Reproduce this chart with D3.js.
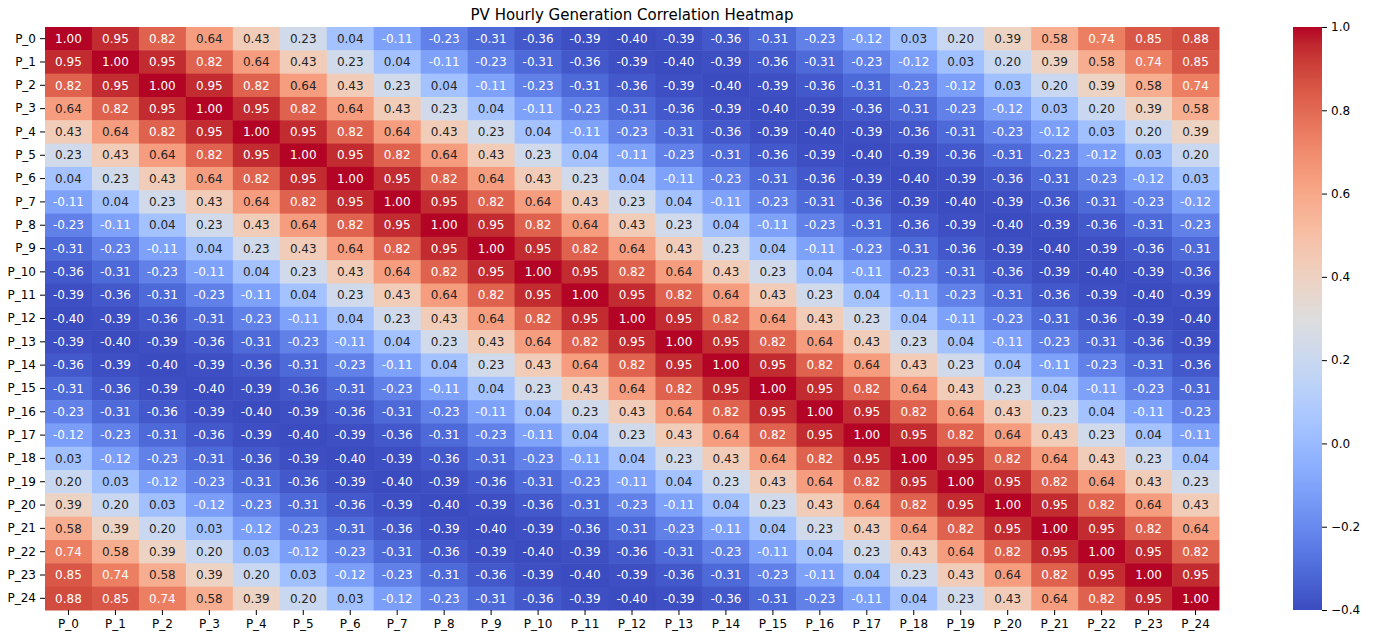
<!DOCTYPE html>
<html>
<head>
<meta charset="utf-8">
<script src="https://cdn.jsdelivr.net/npm/d3@7"></script>
<style>
  body { margin: 0; background: #fff; }
  svg text { font-family: "DejaVu Sans", sans-serif; }
</style>
</head>
<body>
<svg id="chart" width="1377" height="637"></svg>
<script>
// labels for rows and columns
var labels = d3.range(25).map(function(i) { return "P_" + i; });

// correlation matrix, row by row
var corr = [
  [1.00,0.95,0.82,0.64,0.43,0.23,0.04,-0.11,-0.23,-0.31,-0.36,-0.39,-0.40,-0.39,-0.36,-0.31,-0.23,-0.12,0.03,0.20,0.39,0.58,0.74,0.85,0.88],
  [0.95,1.00,0.95,0.82,0.64,0.43,0.23,0.04,-0.11,-0.23,-0.31,-0.36,-0.39,-0.40,-0.39,-0.36,-0.31,-0.23,-0.12,0.03,0.20,0.39,0.58,0.74,0.85],
  [0.82,0.95,1.00,0.95,0.82,0.64,0.43,0.23,0.04,-0.11,-0.23,-0.31,-0.36,-0.39,-0.40,-0.39,-0.36,-0.31,-0.23,-0.12,0.03,0.20,0.39,0.58,0.74],
  [0.64,0.82,0.95,1.00,0.95,0.82,0.64,0.43,0.23,0.04,-0.11,-0.23,-0.31,-0.36,-0.39,-0.40,-0.39,-0.36,-0.31,-0.23,-0.12,0.03,0.20,0.39,0.58],
  [0.43,0.64,0.82,0.95,1.00,0.95,0.82,0.64,0.43,0.23,0.04,-0.11,-0.23,-0.31,-0.36,-0.39,-0.40,-0.39,-0.36,-0.31,-0.23,-0.12,0.03,0.20,0.39],
  [0.23,0.43,0.64,0.82,0.95,1.00,0.95,0.82,0.64,0.43,0.23,0.04,-0.11,-0.23,-0.31,-0.36,-0.39,-0.40,-0.39,-0.36,-0.31,-0.23,-0.12,0.03,0.20],
  [0.04,0.23,0.43,0.64,0.82,0.95,1.00,0.95,0.82,0.64,0.43,0.23,0.04,-0.11,-0.23,-0.31,-0.36,-0.39,-0.40,-0.39,-0.36,-0.31,-0.23,-0.12,0.03],
  [-0.11,0.04,0.23,0.43,0.64,0.82,0.95,1.00,0.95,0.82,0.64,0.43,0.23,0.04,-0.11,-0.23,-0.31,-0.36,-0.39,-0.40,-0.39,-0.36,-0.31,-0.23,-0.12],
  [-0.23,-0.11,0.04,0.23,0.43,0.64,0.82,0.95,1.00,0.95,0.82,0.64,0.43,0.23,0.04,-0.11,-0.23,-0.31,-0.36,-0.39,-0.40,-0.39,-0.36,-0.31,-0.23],
  [-0.31,-0.23,-0.11,0.04,0.23,0.43,0.64,0.82,0.95,1.00,0.95,0.82,0.64,0.43,0.23,0.04,-0.11,-0.23,-0.31,-0.36,-0.39,-0.40,-0.39,-0.36,-0.31],
  [-0.36,-0.31,-0.23,-0.11,0.04,0.23,0.43,0.64,0.82,0.95,1.00,0.95,0.82,0.64,0.43,0.23,0.04,-0.11,-0.23,-0.31,-0.36,-0.39,-0.40,-0.39,-0.36],
  [-0.39,-0.36,-0.31,-0.23,-0.11,0.04,0.23,0.43,0.64,0.82,0.95,1.00,0.95,0.82,0.64,0.43,0.23,0.04,-0.11,-0.23,-0.31,-0.36,-0.39,-0.40,-0.39],
  [-0.40,-0.39,-0.36,-0.31,-0.23,-0.11,0.04,0.23,0.43,0.64,0.82,0.95,1.00,0.95,0.82,0.64,0.43,0.23,0.04,-0.11,-0.23,-0.31,-0.36,-0.39,-0.40],
  [-0.39,-0.40,-0.39,-0.36,-0.31,-0.23,-0.11,0.04,0.23,0.43,0.64,0.82,0.95,1.00,0.95,0.82,0.64,0.43,0.23,0.04,-0.11,-0.23,-0.31,-0.36,-0.39],
  [-0.36,-0.39,-0.40,-0.39,-0.36,-0.31,-0.23,-0.11,0.04,0.23,0.43,0.64,0.82,0.95,1.00,0.95,0.82,0.64,0.43,0.23,0.04,-0.11,-0.23,-0.31,-0.36],
  [-0.31,-0.36,-0.39,-0.40,-0.39,-0.36,-0.31,-0.23,-0.11,0.04,0.23,0.43,0.64,0.82,0.95,1.00,0.95,0.82,0.64,0.43,0.23,0.04,-0.11,-0.23,-0.31],
  [-0.23,-0.31,-0.36,-0.39,-0.40,-0.39,-0.36,-0.31,-0.23,-0.11,0.04,0.23,0.43,0.64,0.82,0.95,1.00,0.95,0.82,0.64,0.43,0.23,0.04,-0.11,-0.23],
  [-0.12,-0.23,-0.31,-0.36,-0.39,-0.40,-0.39,-0.36,-0.31,-0.23,-0.11,0.04,0.23,0.43,0.64,0.82,0.95,1.00,0.95,0.82,0.64,0.43,0.23,0.04,-0.11],
  [0.03,-0.12,-0.23,-0.31,-0.36,-0.39,-0.40,-0.39,-0.36,-0.31,-0.23,-0.11,0.04,0.23,0.43,0.64,0.82,0.95,1.00,0.95,0.82,0.64,0.43,0.23,0.04],
  [0.20,0.03,-0.12,-0.23,-0.31,-0.36,-0.39,-0.40,-0.39,-0.36,-0.31,-0.23,-0.11,0.04,0.23,0.43,0.64,0.82,0.95,1.00,0.95,0.82,0.64,0.43,0.23],
  [0.39,0.20,0.03,-0.12,-0.23,-0.31,-0.36,-0.39,-0.40,-0.39,-0.36,-0.31,-0.23,-0.11,0.04,0.23,0.43,0.64,0.82,0.95,1.00,0.95,0.82,0.64,0.43],
  [0.58,0.39,0.20,0.03,-0.12,-0.23,-0.31,-0.36,-0.39,-0.40,-0.39,-0.36,-0.31,-0.23,-0.11,0.04,0.23,0.43,0.64,0.82,0.95,1.00,0.95,0.82,0.64],
  [0.74,0.58,0.39,0.20,0.03,-0.12,-0.23,-0.31,-0.36,-0.39,-0.40,-0.39,-0.36,-0.31,-0.23,-0.11,0.04,0.23,0.43,0.64,0.82,0.95,1.00,0.95,0.82],
  [0.85,0.74,0.58,0.39,0.20,0.03,-0.12,-0.23,-0.31,-0.36,-0.39,-0.40,-0.39,-0.36,-0.31,-0.23,-0.11,0.04,0.23,0.43,0.64,0.82,0.95,1.00,0.95],
  [0.88,0.85,0.74,0.58,0.39,0.20,0.03,-0.12,-0.23,-0.31,-0.36,-0.39,-0.40,-0.39,-0.36,-0.31,-0.23,-0.11,0.04,0.23,0.43,0.64,0.82,0.95,1.00]
];

// colour bar ticks
var cbarTicks = [-0.4, -0.2, 0.0, 0.2, 0.4, 0.6, 0.8, 1.0];
var vmin = -0.4, vmax = 1.0;

// coolwarm (Moreland) control colours
var coolwarm = [
  "#3b4cc0","#445acc","#4d68d7","#5775e1","#6282ea","#6c8ef1","#779af7","#82a5fb",
  "#8db0fe","#98b9ff","#a3c2ff","#aec9fd","#b8d0f9","#c2d5f4","#ccd9ee","#d5dbe6",
  "#dddddd","#e5d8d1","#ecd3c5","#f1ccb9","#f5c4ad","#f7bba0","#f7b194","#f7a687",
  "#f49a7b","#f18d6f","#ec7f63","#e57058","#de604d","#d55042","#cb3e38","#c0282f",
  "#b40426"
];

var svg = d3.select("#chart");
var margin = {left: 45, top: 27, right: 1219, bottom: 610};

var x = d3.scaleBand().domain(labels).range([margin.left, margin.right]);
var y = d3.scaleBand().domain(labels).range([margin.top, margin.bottom]);

var color = d3.scaleLinear()
  .domain(coolwarm.map(function(d, i) { return vmin + (vmax - vmin) * i / (coolwarm.length - 1); }))
  .range(coolwarm)
  .interpolate(d3.interpolateRgb)
  .clamp(true);

// seaborn picks text colour from the cell luminance
function lum(c) {
  var rgb = d3.rgb(c);
  var f = function(v) { v = v / 255; return v <= 0.03928 ? v / 12.92 : Math.pow((v + 0.055) / 1.055, 2.4); };
  return 0.2126 * f(rgb.r) + 0.7152 * f(rgb.g) + 0.0722 * f(rgb.b);
}

var cells = [];
corr.forEach(function(row, i) {
  row.forEach(function(v, j) { cells.push({r: i, c: j, v: v}); });
});

var g = svg.append("g");

g.selectAll("rect.cell").data(cells)
  .enter().append("rect")
  .attr("class", "cell")
  .attr("x", function(d) { return x(labels[d.c]); })
  .attr("y", function(d) { return y(labels[d.r]); })
  .attr("width", x.bandwidth() + 0.5)
  .attr("height", y.bandwidth() + 0.5)
  .attr("fill", function(d) { return color(d.v); });

g.selectAll("text.ann").data(cells)
  .enter().append("text")
  .attr("class", "ann")
  .attr("x", function(d) { return x(labels[d.c]) + x.bandwidth() / 2; })
  .attr("y", function(d) { return y(labels[d.r]) + y.bandwidth() / 2; })
  .attr("dy", "0.35em")
  .attr("text-anchor", "middle")
  .attr("font-size", "12px")
  .attr("fill", function(d) { return lum(color(d.v)) > 0.408 ? "#262626" : "#ffffff"; })
  .text(function(d) { return d.v.toFixed(2); });

// axes
var xAxis = svg.append("g")
  .attr("transform", "translate(0," + margin.bottom + ")")
  .call(d3.axisBottom(x).tickSize(5).tickPadding(4));
var yAxis = svg.append("g")
  .attr("transform", "translate(" + margin.left + ",0)")
  .call(d3.axisLeft(y).tickSize(5).tickPadding(4));

[xAxis, yAxis].forEach(function(a) {
  a.select(".domain").remove();
  a.selectAll("text").attr("font-size", "12px").attr("fill", "#000")
    .style("font-family", "DejaVu Sans, sans-serif");
  a.selectAll("line").attr("stroke", "#000").attr("stroke-width", 1);
});

// title
svg.append("text")
  .attr("x", (margin.left + margin.right) / 2)
  .attr("y", 20)
  .attr("text-anchor", "middle")
  .attr("font-size", "15px")
  .attr("fill", "#000")
  .text("PV Hourly Generation Correlation Heatmap");

// colour bar
var cb = {x: 1293, w: 29};
var cy = d3.scaleLinear().domain([vmin, vmax]).range([margin.bottom, margin.top]);

var grad = svg.append("defs").append("linearGradient")
  .attr("id", "cbgrad")
  .attr("x1", "0").attr("y1", "1").attr("x2", "0").attr("y2", "0");
grad.selectAll("stop").data(coolwarm)
  .enter().append("stop")
  .attr("offset", function(d, i) { return i / (coolwarm.length - 1); })
  .attr("stop-color", function(d) { return d; });

svg.append("rect")
  .attr("x", cb.x)
  .attr("y", margin.top)
  .attr("width", cb.w)
  .attr("height", margin.bottom - margin.top)
  .attr("fill", "url(#cbgrad)");

var cAxis = svg.append("g")
  .attr("transform", "translate(" + (cb.x + cb.w) + ",0)")
  .call(d3.axisRight(cy).tickValues(cbarTicks).tickSize(5).tickPadding(4)
    .tickFormat(function(d) { return d3.format(".1f")(d).replace("-", "\u2212"); }));
cAxis.select(".domain").remove();
cAxis.selectAll("text").attr("font-size", "12px").attr("fill", "#000")
  .style("font-family", "DejaVu Sans, sans-serif");
cAxis.selectAll("line").attr("stroke", "#000").attr("stroke-width", 1);
</script>
</body>
</html>
